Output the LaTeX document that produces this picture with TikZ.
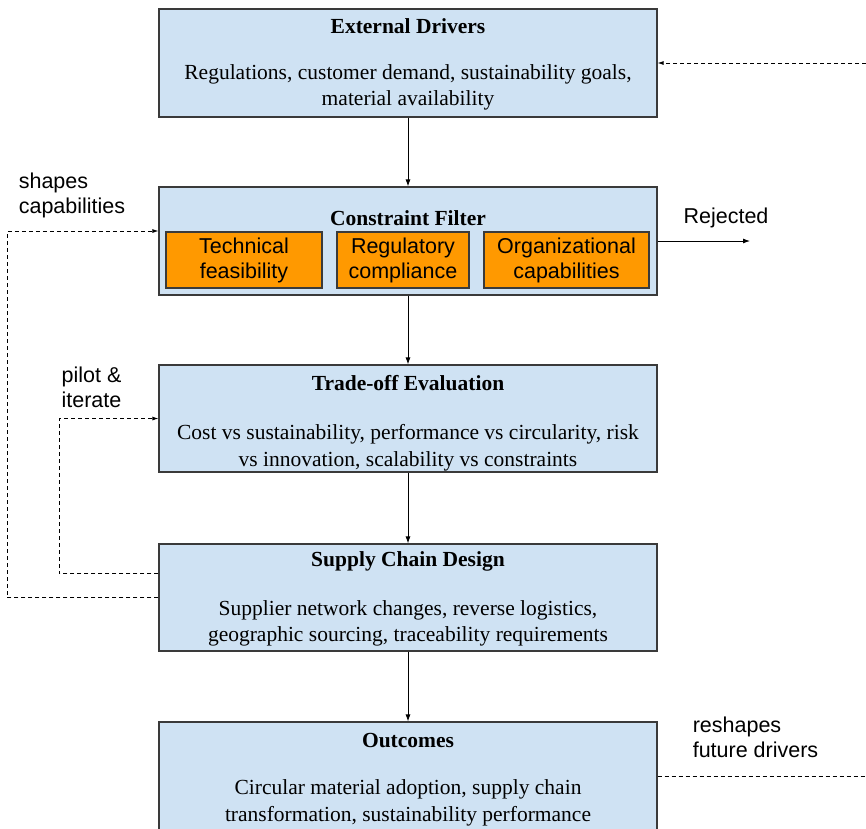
\documentclass[tikz,border=0pt]{standalone}
\usepackage{fontspec}
\setmainfont{Liberation Serif}
\setsansfont{Liberation Sans}
\usetikzlibrary{arrows.meta}
\definecolor{boxblue}{HTML}{CFE2F3}
\definecolor{boxline}{HTML}{3A3A3A}
\definecolor{filterorange}{HTML}{FF9900}

\begin{document}
\begin{tikzpicture}[x=1pt, y=-1pt,
	stage/.style={rectangle, draw=boxline, line width=1.1pt, fill=boxblue, minimum width=498pt, minimum height=108pt},
	check/.style={rectangle, draw=boxline, line width=1.1pt, fill=filterorange, minimum height=56pt, align=center, inner sep=0pt, font=\sffamily\fontsize{21.5}{25}\selectfont},
	head/.style={inner sep=0pt, font=\bfseries\fontsize{21.5}{27}\selectfont},
	body/.style={align=center, inner sep=0pt, font=\fontsize{21.5}{26.5}\selectfont},
	note/.style={align=left, inner sep=0pt, font=\sffamily\fontsize{21.5}{25}\selectfont},
	flow/.style={-{Latex[length=7pt,width=5pt]}, line width=0.9pt},
	feedback/.style={dash pattern=on 4pt off 3pt, line width=0.9pt}]
\useasboundingbox (0,0) rectangle (866,828);

% stages
\node [stage] (drivers) at (408,63) {};
\node [stage] (filter) at (408,241) {};
\node [stage, minimum height=107pt] (tradeoff) at (408,418.5) {};
\node [stage, minimum height=107pt] (design) at (408,597.5) {};
\node [stage] (outcomes) at (408,776) {};

\node [head] (driverstitle) at (408,26) {External Drivers};
\node [body] (driverstext) at (408,87.5) {Regulations, customer demand, sustainability goals,\\material availability};

\node [head] (filtertitle) at (408,218) {Constraint Filter};
\node [check, minimum width=156pt] (technical) at (244,260) {Technical\\feasibility};
\node [check, minimum width=132pt] (regulatory) at (403,260) {Regulatory\\compliance};
\node [check, minimum width=165pt] (organizational) at (566.5,260) {Organizational\\capabilities};

\node [head] (tradeofftitle) at (408,383) {Trade-off Evaluation};
\node [body] (tradeofftext) at (408,447.5) {Cost vs sustainability, performance vs circularity, risk\\vs innovation, scalability vs constraints};

\node [head] (designtitle) at (408,561) {Supply Chain Design};
\node [body] (designtext) at (408,623.5) {Supplier network changes, reverse logistics,\\geographic sourcing, traceability requirements};

\node [head] (outcomestitle) at (408,740) {Outcomes};
\node [body] (outcomestext) at (408,803) {Circular material adoption, supply chain\\transformation, sustainability performance};

% main flow
\draw [flow] (drivers) -- (filter);
\draw [flow] (filter) -- (tradeoff);
\draw [flow] (tradeoff) -- (design);
\draw [flow] (design) -- (outcomes);

% rejected
\coordinate (rejectend) at (750,241);
\draw [flow] (filter.east) -- (rejectend);
\node [note] (rejected) at (726,218) {Rejected};

% feedback loops
\coordinate (futurein) at (866,63);
\coordinate (futureout) at (866,776);
\draw [feedback, -{Latex[length=6pt,width=4pt]}] (futurein) -- (drivers.east);
\draw [feedback] (outcomes.east) -- (futureout);
\node [note] (reshapes) at (755.5,737.5) {reshapes\\future drivers};

\draw [feedback, -{Latex[length=6pt,width=4pt]}] (design.west) -- ++(-151,0) |- ([yshift=10pt]filter.west);
\node [note] (shapes) at (72,195.5) {shapes\\capabilities};

\draw [feedback, -{Latex[length=6pt,width=4pt]}] ([yshift=24pt]design.west) -- ++(-99,0) |- (tradeoff.west);
\node [note] (pilot) at (91.5,387.5) {pilot \&\\iterate};
\end{tikzpicture}
\end{document}
